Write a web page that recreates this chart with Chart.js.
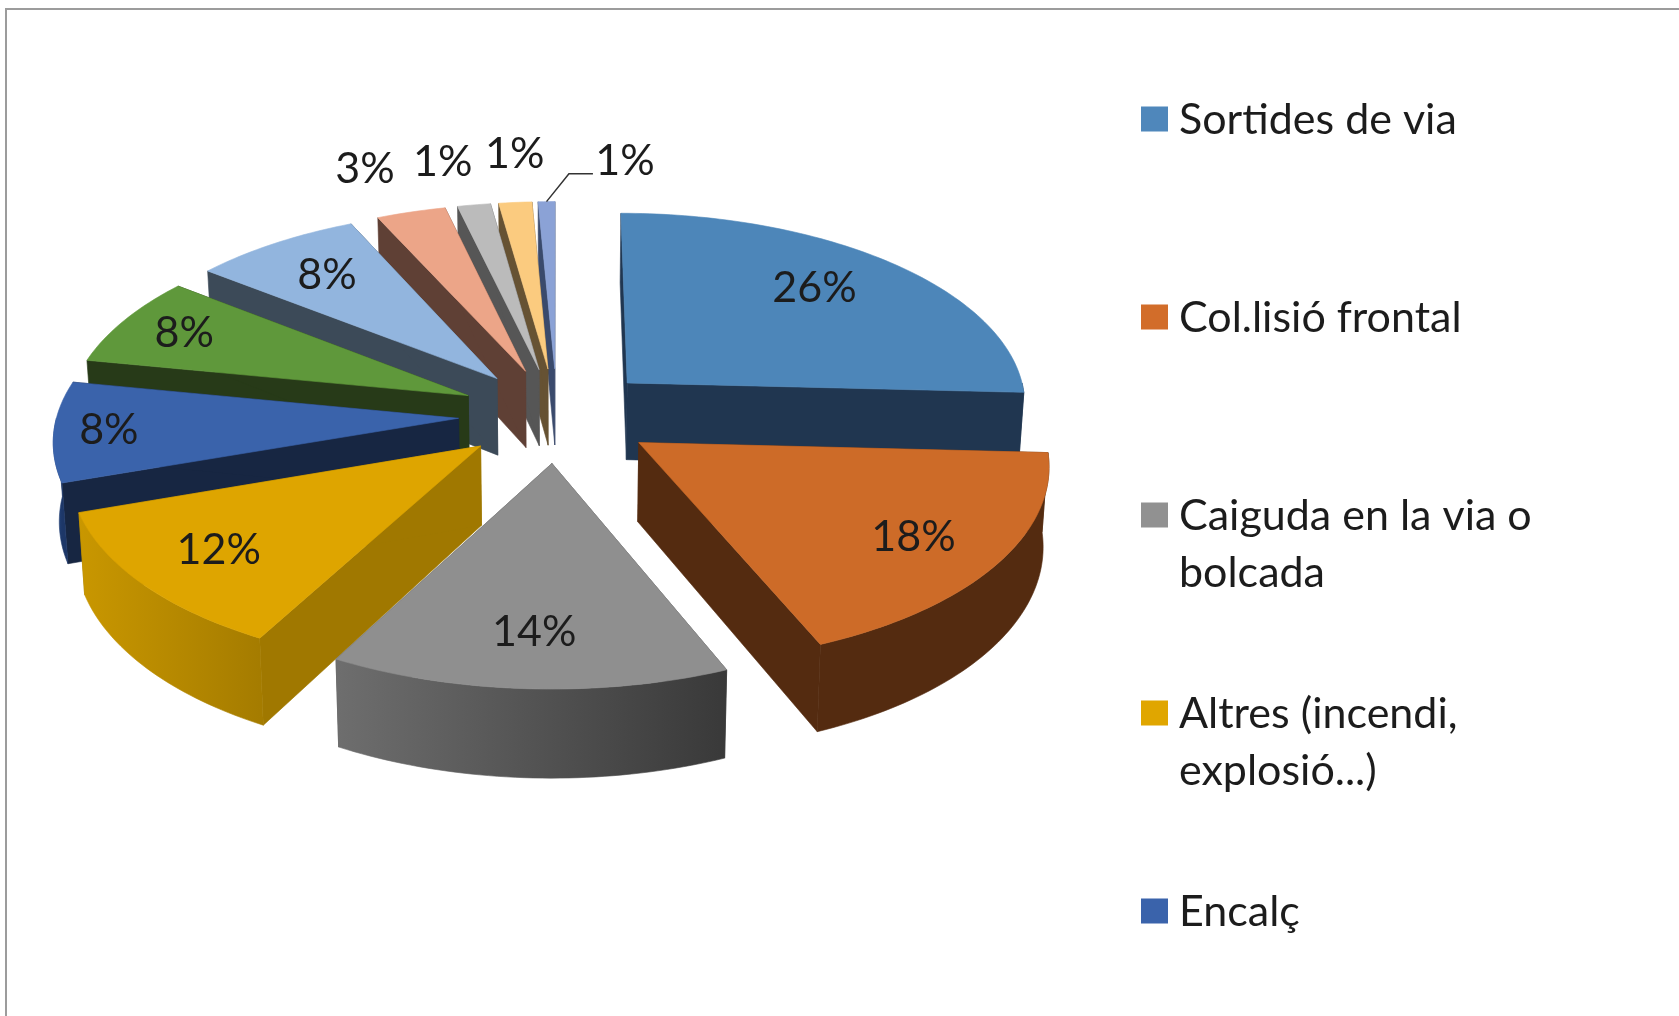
<!DOCTYPE html>
<html><head><meta charset="utf-8">
<style>html,body{margin:0;padding:0;background:#fff;overflow:hidden}#w{width:1679px;height:1016px;position:relative}canvas{filter:blur(.6px)}</style>
<script src="https://cdn.jsdelivr.net/npm/chart.js@4"></script></head>
<body><div id="w"><canvas id="c" width="1679" height="1016"></canvas></div>
<script>
const categories = ['Sortides de via','Col.lisió frontal','Caiguda en la via o bolcada','Altres (incendi, explosió...)','Encalç','','','','','',''];
const values = [25.8,17.9,14.2,11.85,8.3,7.5,7.6,3.12,1.49,1.49,.75];
const topColors = ['#4d86b9','#cd6b28','#8f8f8f','#dea500','#3a63ab','#5f983b','#92b5de','#eca588','#bbbbbb','#fbcb7f','#8ba2d6'];
const cutWallColors = ['#203650','#542b10','#4a4a4a','#a07800','#172642','#273a18','#3c4a58','#5f4035','#565656','#665233','#3a4a6c'];
const outerWallLeft = ['#203650','#542b10','#6e6e6e','#c99700','#2c5290','#273a18','#3c4a58','#5f4035','#565656','#665233','#3a4a6c'];
const outerWallRight = ['#203650','#542b10','#393939','#a57c00','#1d3768','#273a18','#3c4a58','#5f4035','#565656','#665233','#3a4a6c'];
const legendLines = [['Sortides de via'],['Col.lisió frontal'],['Caiguda en la via o','bolcada'],['Altres (incendi,','explosió...)'],['Encalç']];
const legendSwatches = ['#4f87bb','#d26d2a','#919191','#e0a600','#3a63ab'];
const labelRadial = [.74,.78,.77,.78,.865,.82,.75,1.316,1.297,1.325,1.29];
const labelTurnDeg = [-3,.5,0,.5,0,0,0,-1.8,-1.8,1.1,10.3];

const TILT=.48, PERSP=.10, DEPTH=78, NARROW=.012, FONT='43px Lato, Carlito, "Open Sans", sans-serif', INK='#1c1c1c';

const pie3d = {
  id:'pie3d',
  beforeDraw(chart){
    const c=chart.ctx; c.save();
    c.fillStyle='#fff'; c.fillRect(0,0,chart.width,chart.height);
    c.fillStyle='#9c9c9c'; c.fillRect(5,8,chart.width-5,2); c.fillRect(5,8,2,chart.height-8);
    c.restore();
  },
  beforeDatasetsDraw(chart){
    const c=chart.ctx, meta=chart.getDatasetMeta(0);
    const arcs=meta.data.map((el,i)=>({el,i,mid:(el.startAngle+el.endAngle)/2}));
    const R=arcs[0].el.outerRadius, cx=arcs[0].el.x, cy=arcs[0].el.y;
    const P=(u,v,z=0)=>{const w=1/(1-PERSP*v/R);return [cx+u*w*(1-NARROW*z/DEPTH), cy+TILT*v*w+z*w];};
    const arcPts=(ax,ay,a0,a1,r,z)=>{const n=Math.max(2,Math.ceil(Math.abs(a1-a0)/.02)),o=[];
      for(let j=0;j<=n;j++){const a=a0+(a1-a0)*j/n;o.push(P(ax+r*Math.cos(a),ay+r*Math.sin(a),z));}return o;};
    const fill=(pts,style)=>{c.beginPath();pts.forEach((p,j)=>j?c.lineTo(p[0],p[1]):c.moveTo(p[0],p[1]));c.closePath();c.fillStyle=style;c.fill();c.strokeStyle=style;c.lineWidth=.6;c.stroke();};
    const explode=a=>a.el.options.offset/4;
    c.save();
    [...arcs].sort((a,b)=>Math.sin(a.mid)-Math.sin(b.mid)).forEach(a=>{
      const o=explode(a), ax=o*Math.cos(a.mid), ay=o*Math.sin(a.mid), s=a.el.startAngle, e=a.el.endAngle, i=a.i;
      for(const t of [s,e]){
        const ex=ax+R*Math.cos(t), ey=ay+R*Math.sin(t);
        fill([P(ax,ay),P(ex,ey),P(ex,ey,DEPTH),P(ax,ay,DEPTH)],cutWallColors[i]);
      }
      const twoPi=2*Math.PI; let lo=s, hi=e;
      for(const k of [-1,0,1]){
        const l=Math.max(lo,k*twoPi), h=Math.min(hi,k*twoPi+Math.PI);
        if(h>l){
          const topE=arcPts(ax,ay,l,h,R,0), botE=arcPts(ax,ay,h,l,R,DEPTH), xs=topE.map(p=>p[0]);
          const g=c.createLinearGradient(Math.min(...xs),0,Math.max(...xs),0);
          g.addColorStop(0,outerWallLeft[i]);g.addColorStop(1,outerWallRight[i]);
          fill(topE.concat(botE),g);
        }
      }
      fill([P(ax,ay)].concat(arcPts(ax,ay,s,e,R,0)),a.el.options.backgroundColor);
    });
    c.font=FONT; c.fillStyle=INK; c.textAlign='center'; c.textBaseline='middle';
    arcs.forEach(a=>{
      const o=explode(a), ax=o*Math.cos(a.mid), ay=o*Math.sin(a.mid), t=a.mid+labelTurnDeg[a.i]*Math.PI/180, r=labelRadial[a.i]*R;
      const p=P(ax+r*Math.cos(t),ay+r*Math.sin(t));
      const total=values.reduce((x,y)=>x+y,0);
      c.fillText(Math.round(values[a.i]/total*100)+'%',p[0],p[1]);
      if(a.i===arcs.length-1){
        const q=P(ax+R*Math.cos(a.mid),ay+R*Math.sin(a.mid));
        c.beginPath();c.moveTo(q[0],q[1]);c.lineTo(p[0]-56,p[1]+13);c.lineTo(p[0]-32,p[1]+13);
        c.strokeStyle='#333';c.lineWidth=1.5;c.stroke();
      }
    });
    c.textAlign='left'; c.textBaseline='alphabetic';
    legendLines.forEach((lines,i)=>{
      const top=106.5+198*i;
      c.fillStyle=legendSwatches[i]; c.fillRect(1141,top,27,25);
      c.fillStyle=INK;
      lines.forEach((t,j)=>c.fillText(t,1179,top+27+57*j));
    });
    c.restore();
    return false;
  }
};

new Chart(document.getElementById('c'),{
  type:'pie',
  data:{labels:categories,datasets:[{data:values,backgroundColor:topColors,borderWidth:0,offset:394,radius:401.5}]},
  options:{responsive:false,animation:false,events:[],radius:401.5,
    layout:{padding:{left:0,top:0,right:565,bottom:186}},
    plugins:{legend:{display:false},tooltip:{enabled:false},title:{display:false}}},
  plugins:[pie3d]
});
</script></body></html>
